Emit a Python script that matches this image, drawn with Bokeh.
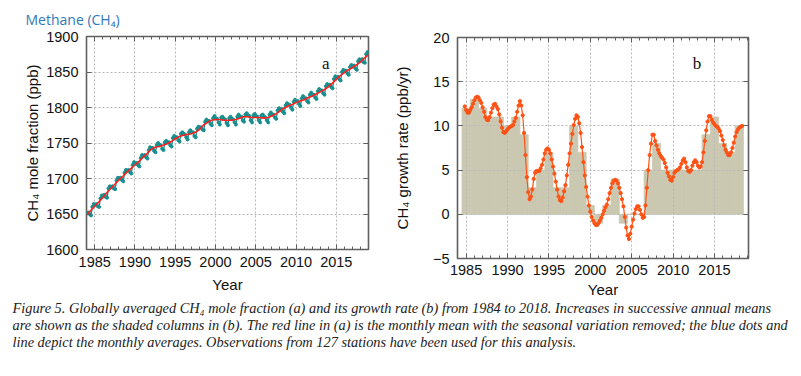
import numpy as np
from bokeh.plotting import figure
from bokeh.models import Range1d, FixedTicker, Label, LinearAxis
from bokeh.layouts import column, row
from bokeh.embed import file_html
from bokeh.resources import INLINE

# ---------------- data ----------------
# (a) de-seasonalised trend, half-year steps from 1984.0
trend_start = 1984.0
trend_ppb = [
    1649, 1655, 1661, 1667, 1673, 1680, 1686, 1692, 1698, 1703,   # 1984-1988
    1709, 1714, 1719, 1724, 1730, 1735, 1741, 1744, 1745, 1747,   # 1989-1993
    1749, 1752, 1756, 1759, 1761, 1762, 1763, 1765, 1769, 1775,   # 1994-1998
    1779, 1782, 1783, 1783, 1782, 1782, 1782, 1783, 1785, 1787,   # 1999-2003
    1787, 1786, 1786, 1786, 1785, 1786, 1788, 1791, 1795, 1799,   # 2004-2008
    1802, 1804, 1807, 1809, 1811, 1814, 1816, 1819, 1822, 1825,   # 2009-2013
    1829, 1834, 1840, 1845, 1849, 1853, 1856, 1860, 1864, 1870,   # 2014-2018
    1874,                                                          # 2019.0
]

# (a) monthly averages, sampled Jan, Mar, May, Jul, Sep, Nov of each year
monthly_start = 1984
monthly_ppb = [
    1651, 1652, 1650, 1648, 1660, 1664,  # 1984
    1663, 1664, 1661, 1660, 1672, 1676,  # 1985
    1676, 1677, 1674, 1673, 1686, 1689,  # 1986
    1688, 1689, 1686, 1685, 1697, 1701,  # 1987
    1700, 1701, 1698, 1696, 1708, 1712,  # 1988
    1711, 1712, 1709, 1707, 1719, 1723,  # 1989
    1721, 1722, 1719, 1717, 1729, 1733,  # 1990
    1732, 1733, 1730, 1728, 1740, 1744,  # 1991
    1743, 1743, 1739, 1737, 1747, 1750,  # 1992
    1747, 1747, 1742, 1740, 1751, 1753,  # 1993
    1751, 1751, 1747, 1745, 1757, 1760,  # 1994
    1758, 1758, 1754, 1752, 1763, 1765,  # 1995
    1763, 1762, 1758, 1755, 1765, 1768,  # 1996
    1765, 1765, 1760, 1758, 1770, 1773,  # 1997
    1772, 1772, 1769, 1768, 1780, 1783,  # 1998
    1781, 1781, 1777, 1775, 1785, 1788,  # 1999
    1785, 1784, 1779, 1776, 1786, 1787,  # 2000
    1784, 1783, 1778, 1775, 1785, 1787,  # 2001
    1784, 1783, 1779, 1776, 1787, 1790,  # 2002
    1787, 1787, 1782, 1780, 1790, 1792,  # 2003
    1789, 1788, 1782, 1779, 1789, 1791,  # 2004
    1788, 1787, 1782, 1779, 1789, 1790,  # 2005
    1787, 1786, 1782, 1779, 1790, 1793,  # 2006
    1790, 1790, 1786, 1784, 1796, 1799,  # 2007
    1797, 1798, 1794, 1792, 1803, 1806,  # 2008
    1804, 1804, 1800, 1797, 1808, 1811,  # 2009
    1809, 1809, 1805, 1802, 1813, 1816,  # 2010
    1813, 1813, 1809, 1807, 1818, 1821,  # 2011
    1818, 1818, 1814, 1812, 1823, 1826,  # 2012
    1824, 1824, 1820, 1818, 1830, 1833,  # 2013
    1831, 1832, 1829, 1827, 1840, 1844,  # 2014
    1842, 1843, 1840, 1838, 1850, 1853,  # 2015
    1851, 1852, 1848, 1846, 1857, 1860,  # 2016
    1858, 1859, 1855, 1853, 1865, 1868,  # 2017
    1866, 1868, 1864, 1863, 1875, 1878,  # 2018
]

# (b) increases in successive annual means (shaded columns)
bar_years = list(range(1985, 2019))
bar_increase = [12, 13, 12, 11, 11, 10, 11, 9, 3, 5,
                7, 3, 3, 10, 7, 1, -1, 1, 4, -1,
                0, 0, 5, 8, 5, 5, 5, 5, 5, 9,
                11, 8, 7, 10]

# (b) growth rate curve, two-month steps starting Nov 1984
rate_start = 1984 + 5 / 6
rate_ppb_yr = [
    12.2,                                   # 1984
    11.8, 11.5, 11.5, 11.8, 12.1, 12.5,     # 1985
    12.9, 13.2, 13.3, 13.2, 12.9, 12.6,     # 1986
    12.1, 11.6, 11.0, 10.7, 10.65, 11.0,    # 1987
    11.5, 12.0, 12.4, 12.5, 12.2, 11.9,     # 1988
    11.3, 10.5, 9.8, 9.3, 9.2, 9.4,         # 1989
    9.6, 9.8, 9.9, 10.0, 10.1, 10.5,        # 1990
    10.9, 11.6, 12.3, 12.8, 12.3, 11.2,     # 1991
    9.2, 6.7, 4.2, 2.5, 1.7, 2.0,           # 1992
    2.8, 4.0, 4.7, 4.9, 4.9, 4.9,           # 1993
    5.2, 5.6, 6.2, 6.9, 7.3, 7.45,          # 1994
    7.3, 6.9, 6.2, 5.4, 4.6, 3.7,           # 1995
    2.8, 2.0, 1.6, 1.5, 1.9, 2.6,           # 1996
    3.3, 4.4, 5.6, 6.9, 8.0, 9.1,           # 1997
    10.1, 10.8, 11.2, 11.0, 10.3, 9.2,      # 1998
    7.6, 5.9, 4.4, 3.1, 2.0, 1.0,           # 1999
    0.3, -0.3, -0.7, -1.0, -1.2, -1.2,      # 2000
    -1.0, -0.7, -0.4, 0.0, 0.4, 0.8,        # 2001
    1.1, 1.7, 2.4, 3.0, 3.5, 3.8,           # 2002
    3.9, 3.8, 3.5, 3.0, 2.4, 1.7,           # 2003
    0.9, -0.3, -1.5, -2.4, -2.8, -2.2,      # 2004
    -1.4, -0.6, 0.1, 0.6, 0.9, 0.9,         # 2005
    0.5, 0.0, -0.4, -0.3, 1.0, 3.0,         # 2006
    5.0, 6.7, 8.0, 9.0, 9.0, 8.3,           # 2007
    7.8, 7.3, 6.9, 6.6, 6.4, 6.2,           # 2008
    5.8, 5.3, 4.7, 4.3, 3.9, 3.8,           # 2009
    4.2, 4.7, 4.9, 5.0, 5.1, 5.3,           # 2010
    5.7, 6.1, 6.3, 5.9, 5.3, 4.9,           # 2011
    4.8, 5.0, 5.5, 5.9, 6.1, 5.9,           # 2012
    5.5, 5.3, 5.4, 5.9, 7.0, 8.3,           # 2013
    9.5, 10.5, 11.1, 11.1, 10.7, 10.4,      # 2014
    10.2, 10.0, 9.9, 9.7, 9.4, 8.9,         # 2015
    8.4, 7.8, 7.3, 7.0, 6.7, 6.7,           # 2016
    7.0, 7.5, 8.1, 8.8, 9.3, 9.6,           # 2017
    9.8, 9.9, 10.0,                         # 2018
]

x_major = [1985, 1990, 1995, 2000, 2005, 2010, 2015]
x_minor = list(range(1984, 2020))
ya_major = [1600, 1650, 1700, 1750, 1800, 1850, 1900]
yb_major = [-5, 0, 5, 10, 15, 20]

title_text = "Methane (CH\u2084)"
caption_lines = [
    "Figure 5. Globally averaged CH\u2084 mole fraction (a) and its growth rate (b) from 1984 to 2018. Increases in successive annual means",
    "are shown as the shaded columns in (b). The red line in (a) is the monthly mean with the seasonal variation removed; the blue dots and",
    "line depict the monthly averages. Observations from 127 stations have been used for this analysis.",
]

# ---------------- style ----------------
SANS = "Liberation Sans"
SERIF = "Liberation Serif"
FRAME = "#5f5f5f"
GRID = "#b8b8b8"
TEAL = "#188f8f"
RED = "#ff1f1f"
ORANGE = "#ff5214"
BAR = "#cbc8b1"
TICK_FS = "14.5px"
LAB_FS = "15px"


def no_align(p):
    if "frame_align" in p.properties():
        p.frame_align = False


def style(p, yticks, ylabel, ylab_standoff, xtick_standoff, xlab_standoff):
    no_align(p)
    p.background_fill_color = "white"
    p.border_fill_color = "white"
    p.outline_line_color = FRAME
    p.outline_line_width = 1.6
    p.xaxis.ticker = FixedTicker(ticks=x_major, minor_ticks=x_minor)
    p.yaxis.ticker = FixedTicker(ticks=yticks)
    p.xaxis.axis_label = "Year"
    p.yaxis.axis_label = ylabel
    for ax in p.axis:
        ax.axis_line_color = None
        ax.major_tick_in = 5
        ax.major_tick_out = 0
        ax.major_tick_line_color = FRAME
        ax.minor_tick_in = 3
        ax.minor_tick_out = 0
        ax.minor_tick_line_color = FRAME
        ax.major_label_text_font = SANS
        ax.major_label_text_font_size = TICK_FS
        ax.major_label_text_color = "#111111"
        ax.axis_label_text_font = SANS
        ax.axis_label_text_font_size = LAB_FS
        ax.axis_label_text_font_style = "normal"
        ax.axis_label_text_color = "#111111"
    p.yaxis.minor_tick_line_color = None
    p.xaxis.major_label_standoff = xtick_standoff
    p.xaxis.axis_label_standoff = xlab_standoff
    p.yaxis.major_label_standoff = 8
    p.yaxis.axis_label_standoff = ylab_standoff
    p.grid.grid_line_color = GRID
    p.grid.grid_line_dash = "2 2"
    p.grid.grid_line_width = 1
    # mirrored ticks on top and right (gnuplot style box)
    top = LinearAxis(ticker=FixedTicker(ticks=x_major, minor_ticks=x_minor),
                     major_label_overrides={t: "" for t in x_major})
    right = LinearAxis(ticker=FixedTicker(ticks=yticks),
                       major_label_overrides={t: "" for t in yticks})
    for ax in (top, right):
        ax.axis_line_color = None
        ax.major_tick_in = 5
        ax.major_tick_out = 0
        ax.major_tick_line_color = FRAME
        ax.minor_tick_in = 3
        ax.minor_tick_out = 0
        ax.minor_tick_line_color = FRAME
        ax.major_label_standoff = 0
        ax.major_label_text_font_size = "1px"
    right.minor_tick_line_color = None
    p.add_layout(top, "above")
    p.add_layout(right, "right")


def text_strip(width, height):
    f = figure(width=width, height=height, output_backend="svg", toolbar_location=None,
               x_range=Range1d(0, width), y_range=Range1d(height, 0),
               x_axis_type=None, y_axis_type=None, min_border=0)
    f.outline_line_color = None
    f.grid.visible = False
    no_align(f)
    return f


# ---------------- title strip ----------------
head = text_strip(790, 28)
head.add_layout(Label(x=25, y=19, text=title_text, text_font="Open Sans",
                      text_font_size="14px", text_color="#3178b8",
                      text_baseline="middle", text_align="left"))

# ---------------- panel (a) ----------------
pa = figure(width=390, height=272, output_backend="svg", toolbar_location=None,
            x_range=Range1d(1983.98, 2019.0), y_range=Range1d(1600, 1900),
            min_border_left=86, min_border_right=22, min_border_top=8, min_border_bottom=51)
style(pa, ya_major, "CH\u2084 mole fraction (ppb)", 2, 7, 6)

mx = monthly_start + (np.arange(len(monthly_ppb)) * 2 + 0.5) / 12.0
tx = trend_start + 0.5 * np.arange(len(trend_ppb))
pa.line(mx, monthly_ppb, line_color=TEAL, line_width=1.3)
pa.scatter(mx, monthly_ppb, marker="circle", size=3.0, fill_color=TEAL, line_color=TEAL)
pa.line(tx, trend_ppb, line_color=RED, line_width=1.6)

pa.add_layout(Label(x=2013.7, y=1862, text="a", text_font=SERIF, text_font_size="17px",
                    text_align="center", text_baseline="alphabetic", text_color="#111111"))

# ---------------- panel (b) ----------------
pb = figure(width=400, height=272, output_backend="svg", toolbar_location=None,
            x_range=Range1d(1983.96, 2019.11), y_range=Range1d(-5, 20),
            min_border_left=63, min_border_right=42, min_border_top=9, min_border_bottom=41)
style(pb, yb_major, "CH\u2084 growth rate (ppb/yr)", 19, 6, 3)

bars = pb.vbar(x=bar_years, top=bar_increase, bottom=0, width=1.0,
               fill_color=BAR, line_color=BAR, line_width=0.8)
bars.level = "image"
rx = rate_start + np.arange(len(rate_ppb_yr)) / 6.0
pb.line(rx, rate_ppb_yr, line_color=ORANGE, line_width=1.2)
pb.scatter(rx, rate_ppb_yr, marker="circle", size=3.2, fill_color=ORANGE, line_color=ORANGE)

pb.add_layout(Label(x=2012.9, y=17.1, text="b", text_font=SERIF, text_font_size="17px",
                    text_align="center", text_baseline="alphabetic", text_color="#111111"))

# ---------------- caption ----------------
cap = text_strip(790, 56)
for i, line_text in enumerate(caption_lines):
    cap.add_layout(Label(x=12, y=7 + 17 * i, text=line_text, text_font=SERIF,
                         text_font_style="italic", text_font_size="14.35px",
                         text_color="#222222", text_baseline="middle", text_align="left"))

layout = column(head, row(pa, pb, spacing=0), cap, spacing=0)

with open("out.html", "w") as f:
    f.write(file_html(layout, INLINE))
